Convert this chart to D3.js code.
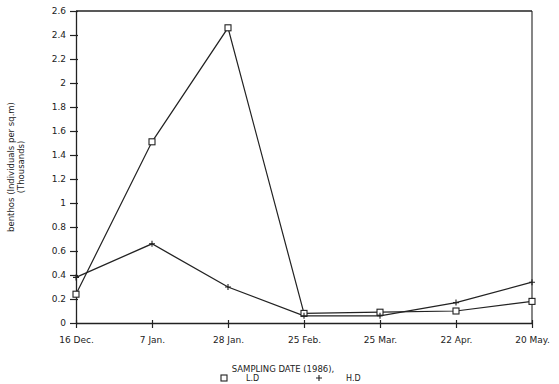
<!DOCTYPE html>
<html><head><meta charset="utf-8">
<script src="https://cdn.jsdelivr.net/npm/d3@7"></script>
<style>body{margin:0;background:#fff}svg{display:block}text{font-family:"DejaVu Sans",sans-serif;fill:#222}</style>
</head><body>
<svg id="c" width="559" height="384"></svg>
<script>
const dates = ["16 Dec.", "7 Jan.", "28 Jan.", "25 Feb.", "25 Mar.", "22 Apr.", "20 May."];
const ldValues = [0.24, 1.51, 2.46, 0.08, 0.09, 0.10, 0.18];
const hdValues = [0.38, 0.66, 0.30, 0.06, 0.06, 0.17, 0.34];
const yTicks = [0, 0.2, 0.4, 0.6, 0.8, 1, 1.2, 1.4, 1.6, 1.8, 2, 2.2, 2.4, 2.6];

const svg = d3.select("#c");
const L = 76, R = 532, T = 11, B = 323;
const x = d3.scalePoint().domain(dates).range([L, R]);
const y = d3.scaleLinear().domain([0, 2.6]).range([B, T]);
const ink = "#222";

// frame
svg.append("line").attr("x1", L).attr("x2", R).attr("y1", T).attr("y2", T).attr("stroke", ink).attr("stroke-width", 1.3);
svg.append("line").attr("x1", R).attr("x2", R).attr("y1", T).attr("y2", B).attr("stroke", ink).attr("stroke-width", 1.1);

const yAxis = svg.append("g").attr("transform", `translate(${L},0)`)
  .call(d3.axisLeft(y).tickValues(yTicks).tickSizeInner(6).tickSizeOuter(0).tickPadding(4).tickFormat(d => d3.format("~g")(d)));
yAxis.selectAll("path").attr("stroke", ink).attr("stroke-width", 1.3);
yAxis.selectAll("line").attr("stroke", ink).attr("stroke-width", 1.2).attr("x2", -6).attr("x1", 2);
yAxis.selectAll("text").attr("font-size", 9).attr("font-family", "DejaVu Sans").attr("fill", ink);

const xAxis = svg.append("g").attr("transform", `translate(0,${B})`)
  .call(d3.axisBottom(x).tickSizeInner(6).tickSizeOuter(0).tickPadding(8));
xAxis.selectAll("path").attr("stroke", ink).attr("stroke-width", 1.4);
xAxis.selectAll("line").attr("stroke", ink).attr("stroke-width", 1.2).attr("y1", -3).attr("y2", 5);
xAxis.selectAll("text").attr("font-size", 9).attr("font-family", "DejaVu Sans").attr("fill", ink);

const line = d3.line().x((d, i) => x(dates[i])).y(d => y(d));
svg.append("path").datum(ldValues).attr("d", line).attr("fill", "none").attr("stroke", ink).attr("stroke-width", 1.2);
svg.append("path").datum(hdValues).attr("d", line).attr("fill", "none").attr("stroke", ink).attr("stroke-width", 1.3);

// markers
svg.selectAll(".sq").data(ldValues).enter().append("rect")
  .attr("x", (d, i) => x(dates[i]) - 3).attr("y", d => y(d) - 3)
  .attr("width", 6).attr("height", 6).attr("fill", "#fff").attr("stroke", ink).attr("stroke-width", 1.1);
svg.selectAll(".pl").data(hdValues).enter().append("path")
  .attr("d", (d, i) => { const cx = x(dates[i]), cy = y(d); return `M${cx-3},${cy}H${cx+3}M${cx},${cy-3}V${cy+3}`; })
  .attr("stroke", ink).attr("stroke-width", 1.1);

// axis titles
svg.append("text").attr("transform", "translate(14,167) rotate(-90)").attr("text-anchor", "middle")
  .attr("font-size", 8.5).text("benthos (Individuals per sq.m)");
svg.append("text").attr("transform", "translate(24,167) rotate(-90)").attr("text-anchor", "middle")
  .attr("font-size", 8.5).text("(Thousands)");
svg.append("text").attr("x", 283).attr("y", 372).attr("text-anchor", "middle").attr("font-size", 8.5).text("SAMPLING DATE (1986),");

// legend
svg.append("rect").attr("x", 221).attr("y", 375).attr("width", 6).attr("height", 6).attr("fill", "#fff").attr("stroke", ink).attr("stroke-width", 1.1);
svg.append("text").attr("x", 246).attr("y", 381).attr("font-size", 8).text("L.D");
svg.append("path").attr("d", "M316,378H322M319,375V381").attr("stroke", ink).attr("stroke-width", 1.1);
svg.append("text").attr("x", 346).attr("y", 381).attr("font-size", 8).text("H.D");
</script>
</body></html>
